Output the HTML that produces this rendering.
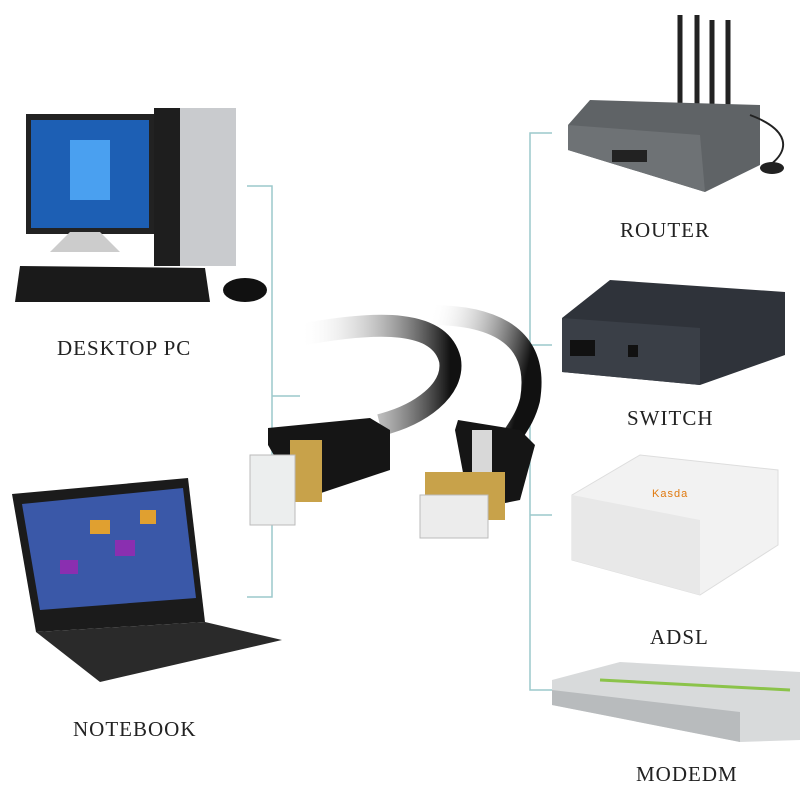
<!DOCTYPE html>
<html><head><meta charset="utf-8"><style>
html,body{margin:0;padding:0;background:#fff;width:800px;height:800px;overflow:hidden}
svg{display:block}
text{font-family:"Liberation Serif",serif;font-size:21px;fill:#222;letter-spacing:1px}
</style></head><body>
<svg width="800" height="800" viewBox="0 0 800 800">
<defs>
<linearGradient id="fl" x1="0" y1="0" x2="1" y2="0"><stop offset="0" stop-color="#fff" stop-opacity="0"/><stop offset="1" stop-color="#111"/></linearGradient>
<linearGradient id="fr" x1="0" y1="0" x2="1" y2="0.3"><stop offset="0" stop-color="#fff" stop-opacity="0"/><stop offset="1" stop-color="#111"/></linearGradient>
</defs>
<!-- brackets -->
<g stroke="#9cc9cc" stroke-width="1.5" fill="none">
<path d="M247 186 H272 V597 H247 M272 396 H300"/>
<path d="M552 133 H530 V690 H552 M530 345 H552 M530 515 H552"/>
</g>
<!-- desktop -->
<rect x="154" y="108" width="82" height="158" fill="#c9cbce"/>
<rect x="154" y="108" width="26" height="158" fill="#1e1e1e"/>
<rect x="26" y="114" width="128" height="120" fill="#222"/>
<rect x="31" y="120" width="118" height="108" fill="#1d5fb4"/>
<rect x="70" y="140" width="40" height="60" fill="#4aa0f0"/>
<path d="M70 232 L100 232 L120 252 L50 252 Z" fill="#ccc"/>
<path d="M20 266 L205 268 L210 302 L15 302 Z" fill="#1a1a1a"/>
<ellipse cx="245" cy="290" rx="22" ry="12" fill="#111"/>
<!-- laptop -->
<path d="M12 494 L188 478 L205 622 L36 632 Z" fill="#1b1b1b"/>
<path d="M22 504 L183 488 L196 598 L40 610 Z" fill="#3a58a8"/>
<g fill="#e0a030"><rect x="90" y="520" width="20" height="14"/><rect x="140" y="510" width="16" height="14"/></g>
<g fill="#8a2fb0"><rect x="115" y="540" width="20" height="16"/><rect x="60" y="560" width="18" height="14"/></g>
<path d="M36 632 L205 622 L282 640 L100 682 Z" fill="#2a2a2a"/>
<!-- cable -->
<g fill="none" stroke-linecap="butt">
<path d="M300 335 C 380 320, 440 320, 450 360 C 455 390, 420 415, 380 425" stroke="url(#fl)" stroke-width="22"/>
<path d="M430 315 C 500 315, 540 340, 530 400 C 525 420, 515 430, 510 440" stroke="url(#fr)" stroke-width="20"/>
</g>
<path d="M268 428 L370 418 L390 430 L390 470 L300 500 L268 445 Z" fill="#151515"/>
<rect x="290" y="440" width="32" height="62" fill="#c8a24a"/>
<rect x="250" y="455" width="45" height="70" fill="#eceeee" stroke="#bbb"/>
<path d="M458 420 L520 430 L535 445 L520 500 L470 510 L455 430 Z" fill="#151515"/>
<rect x="472" y="430" width="20" height="45" fill="#d8d8d8"/>
<rect x="425" y="472" width="80" height="48" fill="#c8a24a"/>
<rect x="420" y="495" width="68" height="43" fill="#ececec" stroke="#bbb"/>
<!-- router -->
<g stroke="#222" stroke-width="5"><line x1="680" y1="15" x2="680" y2="110"/><line x1="697" y1="15" x2="697" y2="110"/><line x1="712" y1="20" x2="712" y2="112"/><line x1="728" y1="20" x2="728" y2="115"/></g>
<path d="M568 125 L590 100 L760 105 L760 165 L705 192 L568 150 Z" fill="#5f6366"/>
<path d="M568 125 L700 135 L705 192 L568 150 Z" fill="#6e7275"/>
<rect x="612" y="150" width="35" height="12" fill="#222"/>
<path d="M750 115 C 790 130, 790 150, 770 165" stroke="#222" stroke-width="2" fill="none"/>
<ellipse cx="772" cy="168" rx="12" ry="6" fill="#222"/>
<!-- switch -->
<path d="M562 318 L610 280 L785 292 L785 355 L700 385 L562 372 Z" fill="#2f333a"/>
<path d="M562 318 L700 328 L700 385 L562 372 Z" fill="#3a3f47"/>
<rect x="570" y="340" width="25" height="16" fill="#111"/>
<rect x="628" y="345" width="10" height="12" fill="#111"/>
<!-- adsl -->
<path d="M572 495 L640 455 L778 470 L778 545 L700 595 L572 560 Z" fill="#f2f2f2" stroke="#ddd"/>
<path d="M572 495 L700 520 L700 595 L572 560 Z" fill="#e8e8e8"/>
<text x="652" y="497" style="font-size:11px;fill:#e07a10;font-family:'Liberation Sans',sans-serif">Kasda</text>
<!-- modem -->
<path d="M552 680 L620 662 L800 672 L800 740 L740 742 L552 705 Z" fill="#d8dadb"/>
<path d="M552 690 L740 712 L740 742 L552 705 Z" fill="#b8bbbd"/>
<path d="M600 680 L790 690" stroke="#8bc34a" stroke-width="3"/>
<!-- labels -->
<text x="57" y="355">DESKTOP PC</text>
<text x="73" y="736">NOTEBOOK</text>
<text x="620" y="237">ROUTER</text>
<text x="627" y="425">SWITCH</text>
<text x="650" y="644">ADSL</text>
<text x="636" y="781">MODEDM</text>
</svg>
</body></html>
